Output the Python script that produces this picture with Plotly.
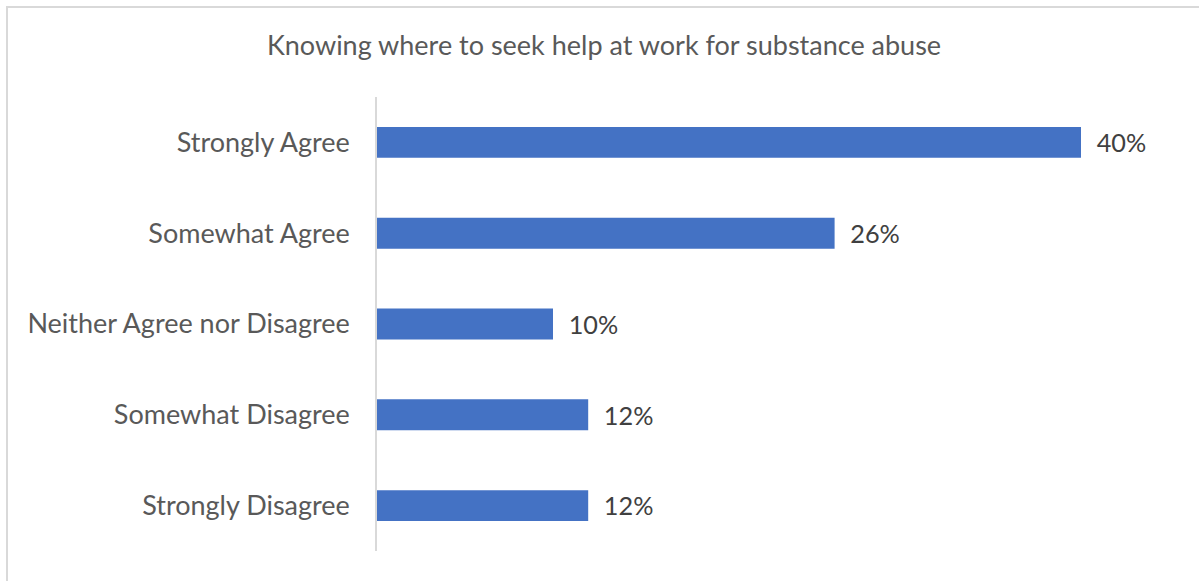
import plotly.graph_objects as go

categories = ["Strongly Agree", "Somewhat Agree", "Neither Agree nor Disagree",
              "Somewhat Disagree", "Strongly Disagree"]
values = [40, 26, 10, 12, 12]
value_labels = ["40%", "26%", "10%", "12%", "12%"]
title_text = "Knowing where to seek help at work for substance abuse"

W, H = 1199, 581
L, R, T, B = 377, 30, 97, 30
PW, PH = W - L - R, H - T - B

fig = go.Figure(go.Bar(
    y=categories,
    x=values,
    orientation="h",
    marker=dict(color="#4472C4", line=dict(width=0)),
    text=value_labels,
    texttemplate="\u2002%{text}",
    textposition="outside",
    textfont=dict(family="Lato", size=27, color="#404040"),
    cliponaxis=False,
    hoverinfo="skip",
))

fig.update_layout(
    width=W, height=H,
    margin=dict(l=L, r=R, t=T, b=B, pad=0),
    paper_bgcolor="white",
    plot_bgcolor="white",
    bargap=0.66,
    showlegend=False,
    title=dict(text=title_text, x=604 / W, xanchor="center",
               y=1 - 46 / H, yanchor="middle",
               font=dict(family="Lato", size=27, color="#595959")),
    xaxis=dict(range=[0, 45], visible=False, fixedrange=True),
    yaxis=dict(categoryorder="array", categoryarray=categories[::-1],
               showline=True, linecolor="#D9D9D9", linewidth=1.5,
               ticks="", showgrid=False, ticklabelstandoff=20,
               tickfont=dict(family="Lato", size=27, color="#595959")),
    shapes=[dict(type="rect", xref="paper", yref="paper",
                 x0=(7 - L) / PW, x1=(W + 60 - L) / PW,
                 y0=-(B + 60) / PH, y1=1 + (T - 7) / PH,
                 line=dict(color="#D9D9D9", width=2), fillcolor="rgba(0,0,0,0)", layer="below")],
)

fig.write_html("out.html")
